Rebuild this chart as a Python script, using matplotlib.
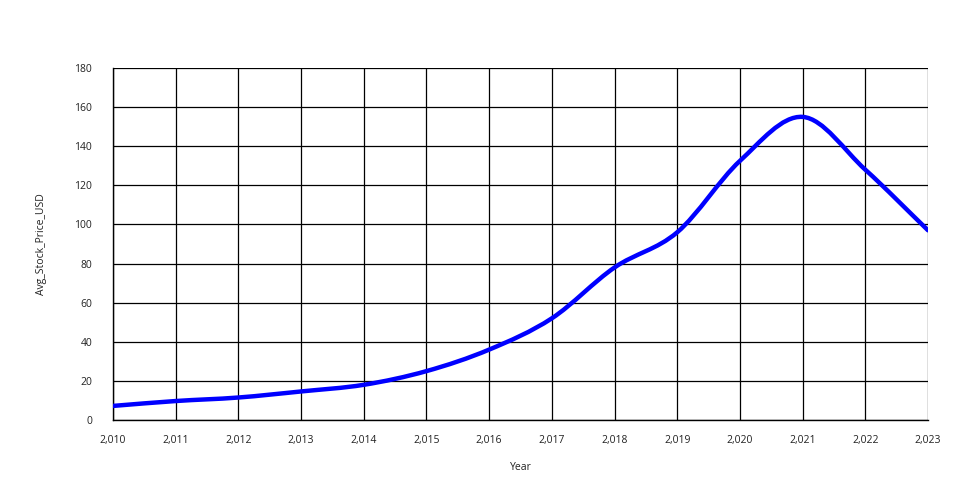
import matplotlib
matplotlib.use("Agg")
import matplotlib.pyplot as plt
from matplotlib.path import Path
from matplotlib.patches import PathPatch
from matplotlib.ticker import FuncFormatter, MultipleLocator

plt.rcParams['font.family'] = ['Open Sans', 'DejaVu Sans']

years = [2010, 2011, 2012, 2013, 2014, 2015, 2016, 2017, 2018, 2019, 2020, 2021, 2022, 2023]
prices = [7.2, 9.7, 11.5, 14.6, 18.0, 25.0, 36.0, 52.0, 78.0, 96.0, 132.5, 155.0, 128.0, 97.0]

fig = plt.figure(figsize=(9.6, 5.0), dpi=100)
ax = fig.add_axes([113/960, 80/500, (928-113)/960, (420-68)/500])

# Catmull-Rom style smooth curve as cubic Bezier path
n = len(years)
verts = [(years[0], prices[0])]
codes = [Path.MOVETO]
def tangent(i):
    if i == 0:
        return ((years[1]-years[0]), (prices[1]-prices[0]))
    if i == n-1:
        return ((years[-1]-years[-2]), (prices[-1]-prices[-2]))
    return ((years[i+1]-years[i-1])/2, (prices[i+1]-prices[i-1])/2)
for i in range(n-1):
    t0 = tangent(i); t1 = tangent(i+1)
    c1 = (years[i] + t0[0]/3, prices[i] + t0[1]/3)
    c2 = (years[i+1] - t1[0]/3, prices[i+1] - t1[1]/3)
    verts += [c1, c2, (years[i+1], prices[i+1])]
    codes += [Path.CURVE4]*3
patch = PathPatch(Path(verts, codes), facecolor='none', edgecolor='#0000ff', lw=3.2, zorder=3, capstyle='round')
ax.add_patch(patch)

ax.set_xlim(2010, 2023)
ax.set_ylim(0, 180)
ax.xaxis.set_major_locator(MultipleLocator(1))
ax.yaxis.set_major_locator(MultipleLocator(20))
ax.xaxis.set_major_formatter(FuncFormatter(lambda v, p: f"{int(round(v)):,}"))
ax.grid(True, color='black', lw=0.9)
ax.set_axisbelow(True)
for s in ['top', 'right']:
    ax.spines[s].set_visible(False)
for s in ['left', 'bottom']:
    ax.spines[s].set_color('black')
    ax.spines[s].set_linewidth(1.0)
ax.tick_params(length=0, labelsize=7.5, colors='#222222', pad=11)
ax.tick_params(axis='y', pad=15)
ax.set_xlabel('Year', fontsize=7.5, color='#222222', labelpad=11)
ax.set_ylabel('Avg_Stock_Price_USD', fontsize=7.5, color='#222222', labelpad=20)

fig.savefig('out.png', dpi=100)
